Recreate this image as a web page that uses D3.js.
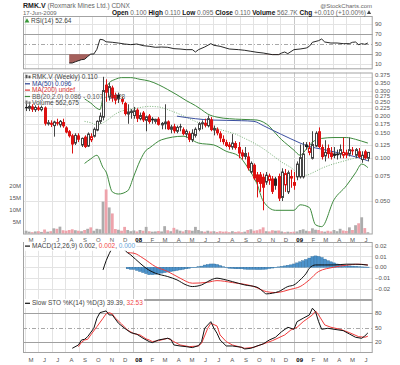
<!DOCTYPE html>
<html>
<head>
<meta charset="utf-8">
<script src="https://cdn.jsdelivr.net/npm/d3@7"></script>
<style>
  body { margin: 0; background: #fff; }
  text { font-family: "Liberation Sans", Arial, sans-serif; }
</style>
</head>
<body>
<div id="chart"></div>
<script>
// weekly bars, first one dated Fri 4 May 2007, last 19 Jun 2009
var firstWeek = new Date(2007, 4, 4);

var opens = [0.230,0.225,0.232,0.220,0.228,0.220,0.228,0.175,0.178,0.170,0.180,0.172,0.180,0.165,0.155,0.145,0.128,0.145,0.124,0.142,
  0.122,0.135,0.143,0.158,0.182,0.195,0.330,0.270,0.315,0.280,0.280,0.262,0.245,0.205,0.210,0.200,0.220,0.190,0.210,0.185,
  0.200,0.190,0.182,0.190,0.172,0.175,0.182,0.160,0.168,0.155,0.168,0.160,0.148,0.150,0.135,0.145,0.160,0.175,0.178,0.170,
  0.188,0.158,0.160,0.150,0.137,0.130,0.125,0.120,0.128,0.120,0.110,0.103,0.103,0.080,0.090,0.077,0.077,0.074,0.068,0.070,
  0.072,0.072,0.075,0.053,0.065,0.058,0.075,0.068,0.074,0.074,0.074,0.125,0.110,0.100,0.122,0.155,0.120,0.104,0.118,0.110,
  0.108,0.108,0.107,0.105,0.110,0.107,0.115,0.105,0.112,0.098,0.112,0.100];
var highs = [0.245,0.240,0.240,0.236,0.235,0.235,0.232,0.186,0.185,0.184,0.190,0.186,0.190,0.168,0.158,0.148,0.150,0.150,0.140,0.145,
  0.152,0.150,0.165,0.185,0.210,0.375,0.360,0.340,0.325,0.290,0.290,0.270,0.250,0.240,0.222,0.230,0.225,0.210,0.215,0.200,
  0.205,0.195,0.190,0.195,0.180,0.240,0.185,0.172,0.175,0.170,0.175,0.165,0.160,0.155,0.160,0.165,0.180,0.185,0.190,0.200,
  0.195,0.170,0.165,0.155,0.145,0.135,0.130,0.148,0.132,0.130,0.115,0.120,0.110,0.095,0.092,0.080,0.080,0.078,0.080,0.078,
  0.075,0.074,0.078,0.085,0.084,0.082,0.083,0.080,0.095,0.125,0.130,0.130,0.130,0.155,0.155,0.165,0.125,0.134,0.125,0.120,
  0.120,0.115,0.125,0.140,0.115,0.140,0.120,0.118,0.118,0.112,0.115,0.110];
var lows = [0.215,0.215,0.212,0.212,0.215,0.214,0.170,0.170,0.166,0.142,0.170,0.165,0.164,0.150,0.140,0.108,0.124,0.130,0.120,0.118,
  0.120,0.130,0.140,0.155,0.175,0.185,0.250,0.255,0.250,0.240,0.245,0.240,0.200,0.175,0.190,0.190,0.180,0.185,0.180,0.155,
  0.175,0.175,0.175,0.170,0.160,0.160,0.158,0.150,0.150,0.150,0.155,0.145,0.140,0.130,0.130,0.140,0.155,0.160,0.165,0.165,
  0.155,0.145,0.145,0.130,0.125,0.120,0.115,0.115,0.115,0.100,0.098,0.098,0.082,0.078,0.070,0.053,0.058,0.043,0.065,0.065,
  0.056,0.060,0.050,0.050,0.058,0.056,0.062,0.060,0.070,0.072,0.072,0.115,0.105,0.098,0.120,0.118,0.098,0.095,0.100,0.098,
  0.100,0.098,0.100,0.100,0.100,0.103,0.105,0.100,0.100,0.093,0.098,0.095];
var closes = [0.225,0.232,0.220,0.228,0.220,0.228,0.175,0.178,0.172,0.180,0.175,0.182,0.168,0.152,0.143,0.125,0.145,0.135,0.138,0.120,
  0.148,0.142,0.160,0.182,0.198,0.300,0.290,0.320,0.265,0.255,0.260,0.250,0.205,0.212,0.215,0.216,0.190,0.200,0.185,0.196,
  0.180,0.185,0.188,0.172,0.176,0.180,0.160,0.166,0.155,0.165,0.165,0.148,0.155,0.135,0.150,0.160,0.175,0.178,0.170,0.190,
  0.158,0.162,0.150,0.138,0.130,0.122,0.120,0.128,0.118,0.108,0.103,0.108,0.085,0.092,0.072,0.068,0.066,0.062,0.076,0.075,
  0.058,0.064,0.052,0.080,0.078,0.079,0.072,0.064,0.091,0.101,0.107,0.120,0.118,0.125,0.150,0.120,0.102,0.110,0.107,0.102,
  0.104,0.105,0.115,0.110,0.105,0.115,0.112,0.115,0.102,0.105,0.100,0.110];
// volume in millions of shares
var volumes = [1.2,0.8,0.6,0.9,1.0,0.7,1.7,0.8,1.0,2.2,2.0,2.9,1.4,1.2,1.5,1.8,1.4,1.2,1.0,1.5,
  2.0,2.6,1.2,2.0,1.8,13.3,18.4,10.9,8.4,1.9,1.6,1.2,2.8,1.5,1.0,1.3,0.9,1.5,1.2,2.8,
  1.0,0.8,0.9,1.1,0.9,3.1,1.4,1.0,2.4,1.7,1.2,0.9,1.5,1.4,1.2,2.8,1.5,1.0,0.8,1.2,
  0.9,1.0,0.7,1.0,0.8,0.9,0.6,1.0,0.7,0.9,0.6,0.8,1.5,1.8,1.2,1.4,1.8,2.6,1.0,0.9,
  1.4,1.2,1.3,0.9,0.6,0.8,0.7,0.8,0.9,1.5,1.8,1.2,1.0,2.2,1.6,1.5,1.0,0.8,1.2,0.9,
  1.5,1.0,2.0,1.3,1.1,2.6,1.5,3.5,4.3,6.8,2.3,0.56];

// overlays: [week index, value]
var ma50 = [[49,0.198],[55,0.190],[60,0.186],[65,0.185],[70,0.184],[74,0.182],[77,0.170],[80,0.158],[83,0.147],[86,0.137],
  [89,0.128],[92,0.121],[96,0.116],[100,0.111],[104,0.106],[108,0.101],[111,0.096]];
var bbUpper = [[19,0.262],[21,0.245],[23,0.225],[24,0.220],[25,0.270],[26,0.310],[27,0.340],[29,0.360],[31,0.370],[34,0.370],
  [37,0.360],[40,0.350],[43,0.330],[46,0.305],[49,0.280],[52,0.255],[55,0.235],[57,0.220],[59,0.205],[62,0.195],[66,0.190],
  [70,0.188],[73,0.187],[75,0.186],[77,0.180],[79,0.168],[81,0.150],[83,0.135],[85,0.124],[87,0.114],[89,0.105],[91,0.116],
  [93,0.130],[96,0.138],[100,0.140],[104,0.140],[107,0.136],[109,0.132],[111,0.128]];
var bbMiddle = [[19,0.182],[21,0.178],[23,0.172],[25,0.178],[27,0.190],[29,0.205],[31,0.215],[34,0.222],[37,0.228],[40,0.232],
  [43,0.230],[46,0.220],[49,0.208],[52,0.195],[55,0.182],[58,0.172],[61,0.164],[65,0.155],[68,0.148],[71,0.138],[74,0.128],
  [77,0.117],[80,0.105],[83,0.094],[86,0.086],[89,0.077],[91,0.076],[93,0.079],[96,0.085],[99,0.090],[102,0.094],[105,0.098],
  [108,0.102],[111,0.107]];
var bbLower = [[19,0.092],[21,0.099],[23,0.105],[25,0.086],[26,0.080],[28,0.058],[30,0.056],[33,0.059],[35,0.075],[37,0.096],
  [39,0.114],[40,0.118],[44,0.135],[51,0.143],[56,0.128],[61,0.124],[65,0.112],[69,0.104],[72,0.086],[75,0.066],[77,0.050],
  [81,0.043],[87,0.043],[89,0.047],[92,0.045],[94,0.034],[96,0.033],[100,0.051],[104,0.064],[107,0.079],[109,0.091],[111,0.086]];

var rsi = [[14,12.6],[15,12.6],[16,15],[18,19.3],[19,20],[20,25.5],[21,30.5],[22,30.6],[23,40],[24,60],[25,59],[26,55],[28,54],
  [30,52.5],[32,50.6],[34,49.3],[36,50.6],[38,47.3],[40,46],[42,44],[44,44.6],[46,44],[48,41.3],[50,40.6],[52,39.3],[54,39.3],
  [55,34.6],[56,39.3],[58,44.6],[60,51.3],[61,48],[63,46],[66,40.6],[69,39.3],[71,38],[73,36],[75,34],[77,32.6],[80,29.3],
  [82,29.3],[83,32.6],[84,34.6],[85,31.3],[87,39.3],[89,40.6],[91,42.6],[92,46],[93,54],[95,57.3],[96,60.6],[97,54.6],[99,52.6],
  [101,52.6],[103,51.3],[105,51.3],[106,54],[107,54.6],[108,49.3],[109,51.3],[110,50],[111,52.64]];

var macd = [[25,-0.0025],[26,0.006],[27,0.0125],[28,0.018],[29,0.022],[30,0.023],[31,0.020],[32,0.016],[34,0.0114],[37,0.0037],
  [39,-0.001],[42,-0.0056],[46,-0.0087],[49,-0.0118],[52,-0.0165],[54,-0.018],[57,-0.0165],[59,-0.0134],[62,-0.0102],[64,-0.0112],
  [67,-0.0134],[71,-0.0165],[75,-0.0186],[77,-0.0227],[78,-0.0248],[80,-0.0242],[82,-0.0227],[85,-0.018],[87,-0.0165],[89,-0.0118],
  [91,-0.0056],[92,-0.001],[94,0.0021],[97,0.0021],[100,0.0021],[104,0.0028],[107,0.0028],[111,0.002]];
var macdSignal = [[33,0.0135],[35,0.013],[38,0.0084],[42,0.0006],[46,-0.004],[50,-0.0102],[54,-0.0149],[59,-0.014],[62,-0.0125],
  [67,-0.0143],[74,-0.018],[78,-0.0227],[81,-0.0236],[86,-0.0205],[89,-0.018],[92,-0.0118],[95,-0.004],[100,0],[104,0.0019],
  [108,0.0028],[111,0.002]];
var histStart = 33;
var macdHist = [-0.0015,-0.002,-0.002,-0.003,-0.004,-0.005,-0.006,-0.007,-0.007,-0.0065,-0.006,-0.0055,-0.005,-0.0045,-0.004,
  -0.0035,-0.003,-0.0025,-0.002,-0.0015,-0.001,-0.0005,0,0.0005,0.001,0.002,0.0025,0.003,0.003,0.0025,0.0015,0.0005,-0.0005,
  -0.001,-0.0012,-0.0015,-0.0015,-0.0015,-0.0018,-0.002,-0.002,-0.002,-0.0022,-0.0022,-0.002,-0.0018,-0.0012,-0.0008,-0.0004,
  0.0003,0.0008,0.0012,0.0018,0.0022,0.003,0.004,0.005,0.006,0.0072,0.0085,0.0098,0.0105,0.010,0.009,0.0075,0.006,0.005,0.004,
  0.003,0.0025,0.002,0.0015,0.0012,0.001,0.0008,0.0005,0.0003,0.0002,0.0001];

var stoK = [[15,7.6],[17,14.5],[18,24.8],[19,26.2],[20,31.7],[22,49],[23,69.8],[24,81.4],[26,84.9],[27,76.6],[28,76.6],[30,59.4],
  [32,49],[34,40],[36,36.6],[38,28.3],[40,21.4],[41,19.3],[43,24.8],[46,28.3],[47,26.2],[48,14.5],[50,12.4],[52,11],[54,9],
  [56,13.1],[57,21.4],[58,49],[59,55.9],[60,62.7],[61,49],[62,38.7],[63,24.8],[65,12.4],[67,12.4],[70,9.7],[71,6.2],[73,7.6],
  [75,12.4],[77,16.6],[79,24.8],[81,30.4],[83,42],[85,51.1],[87,47],[88,62.7],[90,69.8],[92,76.6],[93,90.5],[94,83.4],[95,62.7],
  [96,47],[98,49],[100,47],[103,44.1],[105,37.3],[107,30.4],[109,28.3],[110,33.1],[111,39.39]];
var stoD = [[17,11],[18,20],[19,24.8],[20,26.2],[21,35.2],[23,52.4],[25,69.8],[26,79],[27,81.4],[28,78.7],[29,70],[31,58],[33,45],
  [35,38],[37,35.2],[39,27],[40,24.8],[41,21.4],[43,23.4],[46,28.3],[48,21.4],[50,14.5],[53,11],[56,12.4],[57,18],[59,49],[60,59.4],
  [62,53.8],[63,35.2],[65,21.4],[67,14.5],[71,7.6],[74,9.7],[77,16.6],[80,23.4],[84,35.2],[86,45.5],[88,51.1],[90,62.7],[93,76.6],
  [94,84.9],[95,76.6],[97,55.9],[99,51.1],[102,47],[105,40],[108,31.7],[110,30.4],[111,32.53]];

// tick labels
var priceTicks = [0.05,0.075,0.1,0.125,0.15,0.175,0.2,0.225,0.25,0.275,0.3,0.35,0.375];
var volumeTicks = [5,10,15,20];
var rsiTicks = [10,30,50,70,90];
var macdTicks = [-0.02,-0.01,0,0.01,0.02];
var stoTicks = [20,50,80];
var monthLetters = ["J","F","M","A","M","J","J","A","S","O","N","D"];

var svgWidth = 400;
var svgHeight = 365;
var left = 23, right = 372.7;

var rsiPanel = {top: 16, bottom: 69.3};
var mainPanel = {top: 72.5, bottom: 234.5};
var macdPanel = {top: 242, bottom: 300};
var stoPanel = {top: 300, bottom: 353};
var panels = [rsiPanel, mainPanel, macdPanel, stoPanel];

var red = "#dd1111", black = "#222";
var gridColor = "#e3e3e3", axisText = "#555";

var svg = d3.select("#chart")
  .append("svg")
  .attr("width", svgWidth)
  .attr("height", svgHeight);

var xScale = d3.scaleTime()
  .domain([new Date(2007, 3, 27), new Date(2009, 5, 30)])
  .range([left, right]);

function weekDate(i) { return d3.timeDay.offset(firstWeek, 7 * i); }
function xBar(i) { return xScale(weekDate(i)); }

var yPrice = d3.scaleLog().domain([0.05, 0.375]).range([201, 76.8]);
var yVol = d3.scaleLinear().domain([0, 20]).range([233.6, 185.6]);
var yRsi = d3.scaleLinear().domain([0, 100]).range([69.3, 19.3]);
var yMacd = d3.scaleLinear().domain([-0.02, 0.02]).range([288.7, 245.7]);
var ySto = d3.scaleLinear().domain([20, 80]).range([342.3, 313.3]);

// clip paths
var defs = svg.append("defs");
panels.forEach(function(p, k) {
  defs.append("clipPath").attr("id", "clip" + k)
    .append("rect")
    .attr("x", left).attr("y", p.top)
    .attr("width", right - left).attr("height", p.bottom - p.top);
});

// month gridlines
var months = d3.timeMonth.range(new Date(2007, 4, 1), new Date(2009, 6, 1));
var gridG = svg.append("g");
panels.forEach(function(p) {
  gridG.selectAll(null)
    .data(months)
    .enter()
    .append("line")
    .attr("x1", d => Math.round(xScale(d)) + 0.5)
    .attr("x2", d => Math.round(xScale(d)) + 0.5)
    .attr("y1", p.top)
    .attr("y2", p.bottom)
    .attr("stroke", d => d.getMonth() === 0 ? "#c8c8c8" : gridColor)
    .attr("stroke-width", 1);
});

function hGrid(values, scale, color, dash) {
  gridG.selectAll(null)
    .data(values)
    .enter()
    .append("line")
    .attr("x1", left)
    .attr("x2", right)
    .attr("y1", d => Math.round(scale(d)) + 0.5)
    .attr("y2", d => Math.round(scale(d)) + 0.5)
    .attr("stroke", color)
    .attr("stroke-dasharray", dash || null);
}
hGrid(priceTicks, yPrice, gridColor);
hGrid([10, 90], yRsi, gridColor);
hGrid([30, 70], yRsi, "#a0a0a0");
hGrid([50], yRsi, "#a8a8a8", "4,2,1,2");
hGrid(macdTicks, yMacd, gridColor);
hGrid([20, 80], ySto, "#a0a0a0");
hGrid([50], ySto, "#a8a8a8", "4,2,1,2");

function rightLabels(values, scale, fmt, nudge) {
  svg.append("g").selectAll("text")
    .data(values)
    .enter()
    .append("text")
    .attr("x", 375)
    .attr("y", d => scale(d) + (nudge ? nudge(d) : 0))
    .attr("dy", "0.35em")
    .attr("font-size", "6px")
    .attr("fill", axisText)
    .text(fmt);
}
// the two top price labels sit almost on each other, pull them apart a little
rightLabels(priceTicks, yPrice, d3.format(".3f"), d => d === 0.375 ? -1.8 : (d === 0.35 ? 1.6 : 0));
rightLabels(rsiTicks, yRsi, d => d);
rightLabels(macdTicks, yMacd, d3.format(".2f"));
rightLabels(stoTicks, ySto, d => d);

// volume labels on the left
svg.append("g").selectAll("text")
  .data(volumeTicks)
  .enter()
  .append("text")
  .attr("x", 21)
  .attr("y", d => yVol(d))
  .attr("dy", "0.35em")
  .attr("text-anchor", "end")
  .attr("font-size", "6px")
  .attr("fill", axisText)
  .text(d => d + "M");

// month labels under the price panel and under the stochastics
[mainPanel.bottom + 5.2, stoPanel.bottom + 6.5].forEach(function(yy) {
  svg.append("g").selectAll("text")
    .data(months)
    .enter()
    .append("text")
    .attr("x", d => xScale(d3.timeDay.offset(d, 14)))
    .attr("y", yy)
    .attr("dy", "0.35em")
    .attr("text-anchor", "middle")
    .attr("font-size", "6px")
    .attr("font-weight", d => d.getMonth() === 0 ? "bold" : null)
    .attr("fill", d => d.getMonth() === 0 ? "#000" : axisText)
    .text(d => d.getMonth() === 0 ? d3.timeFormat("%y")(d) : monthLetters[d.getMonth()]);
});

var bars = closes.map(function(c, i) {
  return {i: i, open: opens[i], high: highs[i], low: lows[i], close: c, volume: volumes[i],
          down: i > 0 && c < closes[i - 1]};
});

// ---- price panel ----
var mainG = svg.append("g").attr("clip-path", "url(#clip1)");

mainG.selectAll(".vol")
  .data(bars)
  .enter()
  .append("rect")
  .attr("x", d => xBar(d.i) - 1.4)
  .attr("width", 2.8)
  .attr("y", d => yVol(d.volume))
  .attr("height", d => yVol(0) - yVol(d.volume))
  .attr("fill", d => d.down ? "#eea3ab" : "#acacac");

var smooth = d3.line()
  .x(d => xBar(d[0]))
  .y(d => yPrice(d[1]))
  .curve(d3.curveMonotoneX);

mainG.append("path").attr("d", smooth(bbMiddle)).attr("fill", "none")
  .attr("stroke", "#6aa86a").attr("stroke-width", 0.9).attr("stroke-dasharray", "1,1.5");
mainG.append("path").attr("d", smooth(bbUpper)).attr("fill", "none")
  .attr("stroke", "#3d8a3d").attr("stroke-width", 1);
mainG.append("path").attr("d", smooth(bbLower)).attr("fill", "none")
  .attr("stroke", "#3d8a3d").attr("stroke-width", 1);
mainG.append("path").attr("d", smooth(ma50)).attr("fill", "none")
  .attr("stroke", "#3a4fa0").attr("stroke-width", 1);

var candles = mainG.selectAll(".candle")
  .data(bars)
  .enter()
  .append("g");

candles.append("line")
  .attr("x1", d => Math.round(xBar(d.i)) + 0.5)
  .attr("x2", d => Math.round(xBar(d.i)) + 0.5)
  .attr("y1", d => yPrice(d.high))
  .attr("y2", d => yPrice(d.low))
  .attr("stroke", d => d.down ? red : "#444")
  .attr("stroke-width", 1);

candles.append("rect")
  .attr("x", d => d.close >= d.open ? Math.round(xBar(d.i)) - 0.5 : Math.round(xBar(d.i)) - 1)
  .attr("width", d => d.close >= d.open ? 2 : 3)
  .attr("y", d => yPrice(Math.max(d.open, d.close)))
  .attr("height", d => Math.max(1, yPrice(Math.min(d.open, d.close)) - yPrice(Math.max(d.open, d.close))))
  .attr("fill", d => d.close >= d.open ? "#fff" : (d.down ? red : black))
  .attr("stroke", d => d.close >= d.open ? (d.down ? red : "#444") : "none")
  .attr("stroke-width", 1);

// ---- RSI panel ----
var rsiG = svg.append("g").attr("clip-path", "url(#clip0)");
rsiG.append("path")
  .attr("d", d3.area().x(d => xBar(d[0])).y0(yRsi(30)).y1(d => yRsi(Math.min(d[1], 30)))(rsi))
  .attr("fill", "#a5605c");
rsiG.append("path")
  .attr("d", d3.line().x(d => xBar(d[0])).y(d => yRsi(d[1]))(rsi))
  .attr("fill", "none").attr("stroke", "#111").attr("stroke-width", 0.9);

// ---- MACD panel ----
var macdG = svg.append("g").attr("clip-path", "url(#clip2)");
macdG.selectAll("rect")
  .data(macdHist)
  .enter()
  .append("rect")
  .attr("x", (d, k) => xBar(histStart + k) - 1.5)
  .attr("width", 3)
  .attr("y", d => yMacd(Math.max(d, 0)))
  .attr("height", d => Math.max(0.5, Math.abs(yMacd(d) - yMacd(0))))
  .attr("fill", "#4b92cb")
  .attr("stroke", "#2d6c9c")
  .attr("stroke-width", 0.4);
var macdLine = d3.line().x(d => xBar(d[0])).y(d => yMacd(d[1])).curve(d3.curveMonotoneX);
macdG.append("path").attr("d", macdLine(macdSignal)).attr("fill", "none")
  .attr("stroke", "#f03c3c").attr("stroke-width", 1);
macdG.append("path").attr("d", macdLine(macd)).attr("fill", "none")
  .attr("stroke", "#111").attr("stroke-width", 1);

// ---- slow stochastics ----
var stoG = svg.append("g").attr("clip-path", "url(#clip3)");
var stoLine = d3.line().x(d => xBar(d[0])).y(d => ySto(d[1]));
stoG.append("path").attr("d", stoLine(stoD)).attr("fill", "none")
  .attr("stroke", "#f03c3c").attr("stroke-width", 1);
stoG.append("path").attr("d", stoLine(stoK)).attr("fill", "none")
  .attr("stroke", "#111").attr("stroke-width", 1);

// panel frames
svg.append("g").selectAll("rect")
  .data(panels)
  .enter()
  .append("rect")
  .attr("x", left + 0.5)
  .attr("y", d => d.top + 0.5)
  .attr("width", right - left - 1)
  .attr("height", d => d.bottom - d.top - 1)
  .attr("fill", "none")
  .attr("stroke", "#a3a3a3");

// ---- legends ----
function legend(x, y, parts, withBox) {
  var g = svg.append("g");
  var t = g.append("text")
    .attr("x", x)
    .attr("y", y)
    .attr("dy", "0.35em")
    .attr("font-size", "6.5px");
  parts.forEach(function(p) {
    t.append("tspan").attr("fill", p[1]).text(p[0]);
  });
  if (withBox) {
    var b = t.node().getBBox();
    g.insert("rect", "text")
      .attr("x", b.x - 8).attr("y", b.y - 0.5)
      .attr("width", b.width + 9).attr("height", b.height + 1)
      .attr("fill", "#fff");
  }
  return g;
}
function keyLine(x, y, color) {
  svg.append("line").attr("x1", x).attr("x2", x + 5).attr("y1", y + 0.5).attr("y2", y + 0.5)
    .attr("stroke", color).attr("stroke-width", 1.2);
}

svg.append("path").attr("d", d3.symbol().type(d3.symbolTriangle).size(10)()).attr("transform", "translate(27,21)")
  .attr("fill", "#3a9a3a");
legend(31, 20.8, [["RSI(14) 52.64", "#444"]]);

// little candle key
svg.append("rect").attr("x", 25.5).attr("y", 74.8).attr("width", 2).attr("height", 3.5).attr("fill", "#555");
svg.append("rect").attr("x", 28.5).attr("y", 75.6).attr("width", 2).attr("height", 2.7).attr("fill", "#555");
legend(32, 77, [["RMK.V (Weekly) 0.110", "#444"]]);
keyLine(25, 83.3, "#2a3f90");
legend(32, 83.7, [["MA(50) 0.096", "#2a3f90"]]);
keyLine(25, 89.6, "#dd3333");
legend(32, 90, [["MA(200) undef", "#dd3333"]]);
keyLine(25, 96, "#3d8a3d");
legend(32, 96.4, [["BB(20,2.0) 0.086 - 0.107 - 0.128", "#5a5a5a"]]);
svg.append("rect").attr("x", 25.5).attr("y", 100.5).attr("width", 2).attr("height", 3.5).attr("fill", "#777");
svg.append("rect").attr("x", 28.5).attr("y", 101.5).attr("width", 2).attr("height", 2.5).attr("fill", "#777");
legend(32, 102.6, [["Volume 562,675", "#444"]]);

legend(32, 246, [["MACD(12,26,9) 0.002, ", "#444"], ["0.002", "#f04848"], [", ", "#444"], ["0.000", "#6aa6d8"]], true);
keyLine(25, 245.6, "#111");
legend(32, 303.2, [["Slow STO %K(14) %D(3) 39.39, ", "#444"], ["32.53", "#f04848"]], true);
keyLine(25, 302.8, "#111");

// ---- header ----
var head = svg.append("text").attr("x", 23).attr("y", 8).attr("font-size", "7px");
head.append("tspan").attr("font-weight", "bold").attr("fill", "#222").text("RMK.V ");
head.append("tspan").attr("fill", "#666").attr("font-size", "6.5px").text("(Roxmark Mines Ltd.) CDNX");

svg.append("text").attr("x", 372).attr("y", 8).attr("text-anchor", "end")
  .attr("font-size", "6px").attr("fill", "#666").text("@StockCharts.com");

svg.append("text").attr("x", 23).attr("y", 14.6).attr("font-size", "6px").attr("fill", "#666").text("17-Jun-2009");

var quote = [["Open ", true], ["0.100 ", false], ["High ", true], ["0.110 ", false], ["Low ", true], ["0.095 ", false],
  ["Close ", true], ["0.110 ", false], ["Volume ", true], ["562.7K ", false], ["Chg ", true], ["+0.010 (+10.00%) ", false]];
var q = svg.append("text").attr("x", 366).attr("y", 14.6).attr("text-anchor", "end").attr("font-size", "6.5px");
quote.forEach(function(p) {
  q.append("tspan")
    .attr("font-weight", p[1] ? "bold" : null)
    .attr("fill", p[1] ? "#111" : "#666")
    .text(p[0]);
});
svg.append("path").attr("d", d3.symbol().type(d3.symbolTriangle).size(8)()).attr("transform", "translate(369,12.8)")
  .attr("fill", "#444");
</script>
</body>
</html>
